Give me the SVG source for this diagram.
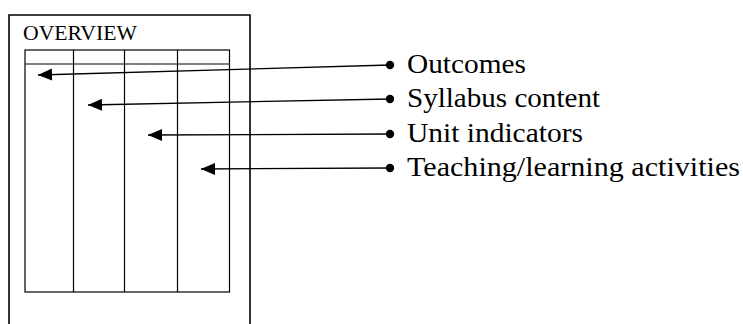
<svg xmlns="http://www.w3.org/2000/svg" width="743" height="324" viewBox="0 0 743 324">
<style>
.frame{fill:none;stroke:#000;stroke-width:1.6}
.grid{fill:none;stroke:#000;stroke-width:1.2}
.hdr{stroke:#555;stroke-width:1.4}
.lbl{font-family:"Liberation Serif","Times New Roman",serif;font-size:27px;fill:#000}
.title{font-family:"Liberation Serif","Times New Roman",serif;font-size:22px;fill:#000}
.conn{stroke:#000;stroke-width:1.3;fill:none}
.dot{fill:#000}
</style>
<defs>
<marker id="ah" markerUnits="userSpaceOnUse" markerWidth="15" markerHeight="13" refX="14" refY="6" orient="auto">
<path d="M0,0 L14,6 L0,12 Z" fill="#000"/>
</marker>
</defs>
<rect width="743" height="324" fill="#fff"/>
<g id="overview">
<path class="frame" d="M9,330 V15 H250 V330"/>
<text class="title" x="23" y="40" textLength="114" lengthAdjust="spacingAndGlyphs">OVERVIEW</text>
<rect class="grid" x="25" y="50" width="204.5" height="242"/>
<line class="hdr" x1="24" y1="64" x2="229.5" y2="64"/>
<line class="grid" x1="73.5" y1="50" x2="73.5" y2="292"/>
<line class="grid" x1="124.5" y1="50" x2="124.5" y2="292"/>
<line class="grid" x1="177.5" y1="50" x2="177.5" y2="292"/>
</g>
<g id="outcomes">
<circle class="dot" cx="390" cy="65" r="4.2"/>
<text class="lbl" x="407" y="73" textLength="119" lengthAdjust="spacingAndGlyphs">Outcomes</text>
</g>
<g id="syllabus">
<circle class="dot" cx="390" cy="99" r="4.2"/>
<text class="lbl" x="407" y="107" textLength="193" lengthAdjust="spacingAndGlyphs">Syllabus content</text>
</g>
<g id="unit">
<circle class="dot" cx="390" cy="134" r="4.2"/>
<text class="lbl" x="407" y="141.5" textLength="176" lengthAdjust="spacingAndGlyphs">Unit indicators</text>
</g>
<g id="teaching">
<circle class="dot" cx="390" cy="168" r="4.2"/>
<text class="lbl" x="407" y="176" textLength="333" lengthAdjust="spacingAndGlyphs">Teaching/learning activities</text>
</g>
<g id="connectors">
<line class="conn" x1="390" y1="65" x2="38" y2="75" marker-end="url(#ah)"/>
<line class="conn" x1="390" y1="99" x2="88" y2="105" marker-end="url(#ah)"/>
<line class="conn" x1="390" y1="134" x2="148" y2="135" marker-end="url(#ah)"/>
<line class="conn" x1="390" y1="168" x2="201" y2="169" marker-end="url(#ah)"/>
</g>
</svg>
